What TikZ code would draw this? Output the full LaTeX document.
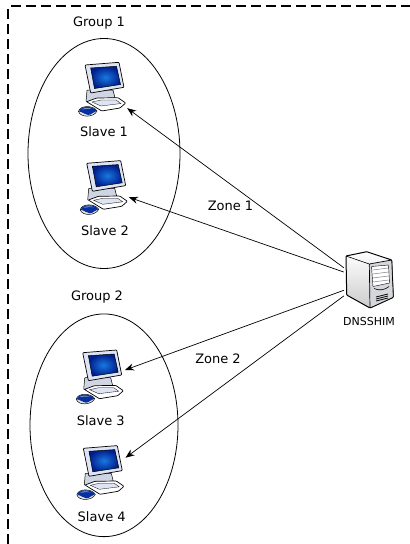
\documentclass[tikz,border=0pt]{standalone}
\usepackage{fontspec}
\setmainfont{DejaVu Sans}
\usepackage{tikz}
\usetikzlibrary{shapes.geometric, arrows.meta}
\definecolor{scrblue}{RGB}{0,30,140}
\definecolor{scrsky}{RGB}{25,120,225}
\definecolor{boxgrey}{RGB}{222,228,244}
\tikzstyle{grp} = [ellipse, draw=black, line width=0.8pt, minimum width=152pt, minimum height=230pt]
\tikzstyle{host} = [rectangle, minimum width=44pt, minimum height=36pt, inner sep=0pt]
\tikzstyle{srv} = [rectangle, minimum width=48pt, minimum height=54pt, inner sep=0pt]
\tikzstyle{lbl} = [font=\fontsize{13}{15}\selectfont, inner sep=0pt]
\tikzstyle{link} = [-{Stealth[length=9pt,width=7pt]}, line width=0.7pt]
\tikzset{
  computer/.pic={
    \draw[line width=0.5pt, fill=boxgrey!85!gray, rounded corners=0.6pt] (-18,0) -- (8,0) -- (10,8) -- (-19,12) -- cycle;
    \draw[line width=0.7pt, fill=white, rounded corners=0.8pt] (-18.3,11.7) -- (-8.3,8) -- (13,7.7) -- (20.7,13) -- (15,18) -- (-3.3,21) -- cycle;
    \draw[line width=0.3pt, fill=boxgrey] (-13,12) -- (-4,10) -- (11,10) -- (16,13.5) -- (-4,16) -- cycle;
    \draw[line width=0.7pt, fill=boxgrey, rounded corners=0.8pt] (-20,-25) -- (14,-27.7) -- (19,-2.7) -- (-14.3,3) -- cycle;
    \draw[line width=0.5pt, inner color=scrsky, outer color=scrblue] (-14.3,-22) -- (11.5,-23.7) -- (15.5,-5.5) -- (-10.5,-1.5) -- cycle;
    \draw[line width=0.5pt, fill=gray!20] (-26.5,21.5) .. controls (-25,15) and (-11.5,15) .. (-8,21) .. controls (-11,27.5) and (-24.5,28) .. (-26.5,21.5) -- cycle;
    \fill[scrblue!80!scrsky] (-26,21.5) .. controls (-24.5,15.5) and (-12,15.5) .. (-8.5,21) .. controls (-12,21.5) and (-13,25) .. (-17,25) .. controls (-20,25) and (-22,22) .. (-26,21.5) -- cycle;
    \fill[white, opacity=0.5] (-23,19.5) .. controls (-21,17.5) and (-16,17.5) .. (-13,19) .. controls (-17,18.5) and (-20,19) .. (-23,19.5) -- cycle;
  },
  rackbox/.pic={
    \draw[line width=1pt, top color=white, bottom color=gray!40, rounded corners=0.8pt] (-22,-23) -- (-1.3,-27.3) -- (23.7,-19) -- (25.3,18.3) -- (2,29) -- (-21.3,16) -- cycle;
    \draw[line width=0.7pt, fill=boxgrey!60!gray!60, rounded corners=0.8pt] (1.3,-15) -- (23.7,-19) -- (25.3,18.3) -- (2,29) -- cycle;
    \draw[line width=0.6pt] (-22,-23) -- (1.3,-15);
    \draw[line width=0.4pt, fill=white] (3.5,-12.5) -- (20.5,-14) -- (21.5,4) -- (5,7.5) -- cycle;
    \foreach \ypos in {-9,-5,-1,3} {
      \draw[line width=0.5pt, gray] (4.5,\ypos) -- (20.5,\ypos-2);
    }
    \draw[line width=0.6pt] (6,9.5) .. controls (11,12) and (17,11) .. (21,7.5);
    \foreach \ypos in {18,20,22} {
      \draw[line width=0.8pt] (8,\ypos) -- (20,\ypos-3);
    }
  }
}

\begin{document}
\begin{tikzpicture}[x=1pt, y=-1pt, node distance=95pt]
\useasboundingbox (0,0) rectangle (410,544);

\draw[line width=1.2pt, dash pattern=on 10pt off 5pt, rounded corners=3pt] (8,544) -- (8,6) -- (410,6);

\node (group1) [grp] at (104,153.5) {};
\node (group2) [grp, minimum width=148pt, minimum height=222.7pt] at (104,425.3) {};
\node (grouplbl1) [lbl] at (99,23) {Group 1};
\node (grouplbl2) [lbl] at (97,297) {Group 2};

\node (slave1) [host] at (105,90) {};
\node (slave2) [host, below of=slave1, xshift=1.7pt, yshift=-3.3pt] {};
\node (slave3) [host, below of=slave2, xshift=-4pt, yshift=-94.4pt] {};
\node (slave4) [host, below of=slave3, xshift=0.6pt, yshift=-0.6pt] {};
\pic at (slave1) {computer};
\pic at (slave2) {computer};
\pic at (slave3) {computer};
\pic at (slave4) {computer};

\node (name1) [lbl, below of=slave1, xshift=-1pt, yshift=53.3pt] {Slave 1};
\node (name2) [lbl, below of=slave2, xshift=-1.7pt, yshift=52.6pt] {Slave 2};
\node (name3) [lbl, below of=slave3, xshift=-1.9pt, yshift=51.7pt] {Slave 3};
\node (name4) [lbl, below of=slave4, xshift=-1.6pt, yshift=51.6pt] {Slave 4};

\node (server) [srv] at (368,279) {};
\pic at (server) {rackbox};
\node (dnsshim) [lbl, font=\fontsize{11}{13}\selectfont, below of=server, xshift=1pt, yshift=53pt] {DNSSHIM};

\draw[link] (server.155) -- (slave1.south east);
\draw[link] (server.164) -- (slave2.-22);
\draw[link] (server.205) -- (slave3.19);
\draw[link] (server.215) -- (slave4.35);

\node (zone1) [lbl] at (230.5,206) {Zone 1};
\node (zone2) [lbl] at (218,359) {Zone 2};

\end{tikzpicture}
\end{document}
